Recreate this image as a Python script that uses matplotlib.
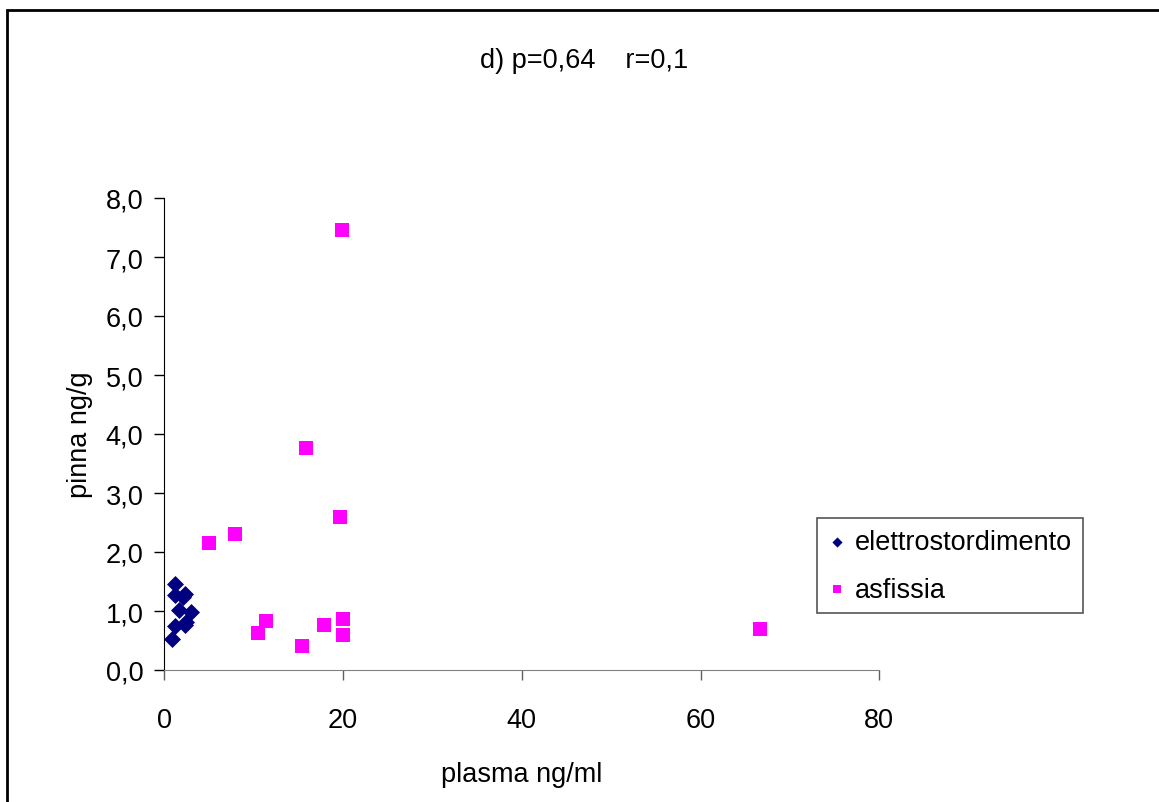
import matplotlib.pyplot as plt
from matplotlib.patches import Rectangle
from matplotlib.ticker import FuncFormatter

plt.rcParams['font.family'] = ['Liberation Sans', 'DejaVu Sans']

# dati
elettro_x = [1.23, 1.20, 2.35, 2.10, 1.68, 3.02, 1.16, 2.28, 2.43, 0.86]
elettro_y = [1.46, 1.27, 1.29, 1.24, 1.02, 0.98, 0.75, 0.76, 0.81, 0.53]
asfissia_x = [4.97, 7.94, 19.62, 11.34, 10.48, 17.90, 20.02, 20.02, 15.37, 19.87, 15.85, 66.7]
asfissia_y = [2.15, 2.31, 2.60, 0.83, 0.63, 0.76, 0.86, 0.60, 0.41, 7.45, 3.76, 0.695]
x_ticks = [0, 20, 40, 60, 80]
y_ticks = [0, 1, 2, 3, 4, 5, 6, 7, 8]

W, H = 1159, 803
fig = plt.figure(figsize=(W / 100, H / 100), dpi=100)
ax = fig.add_axes([164.3 / W, 1 - 671 / H, 715 / W, 472 / H])

ax.scatter(elettro_x, elettro_y, marker='D', s=75, c='#000080', linewidths=0,
           label='elettrostordimento', zorder=3, clip_on=False)
ax.scatter(asfissia_x, asfissia_y, marker='s', s=110, c='#FF00FF', linewidths=0,
           label='asfissia', zorder=3, clip_on=False)

ax.set_xlim(0, 80)
ax.set_ylim(0, 8)
ax.set_xticks(x_ticks)
ax.set_yticks(y_ticks)
ax.yaxis.set_major_formatter(FuncFormatter(lambda v, p: f'{v:.1f}'.replace('.', ',')))

for s in ['top', 'right']:
    ax.spines[s].set_visible(False)
ax.spines['left'].set_color('black')
ax.spines['bottom'].set_color('#808080')
ax.tick_params(axis='y', direction='out', length=7, width=1, colors='black',
               labelsize=19.5, pad=8)
ax.tick_params(axis='x', direction='out', length=7, width=1, color='#606060',
               labelcolor='black', labelsize=19.5, pad=20)

ax.set_xlabel('plasma ng/ml', fontsize=19.5)
ax.xaxis.label.set_va('center')
ax.xaxis.set_label_coords(0.5, (671 - 775) / 472)
ax.set_ylabel('pinna ng/g', fontsize=19.5)
ax.yaxis.label.set_va('center')
ax.yaxis.set_label_coords((80 - 164.3) / 715, 0.5)

fig.text(584 / W, 1 - 61 / H, 'd) p=0,64    r=0,1', fontsize=19.5,
         ha='center', va='center')

leg = ax.legend(loc='upper left', bbox_to_anchor=(816.7 / W, 1 - 519 / H),
                bbox_transform=fig.transFigure, borderaxespad=0, fontsize=19.5,
                frameon=True, fancybox=False, framealpha=1, edgecolor='#555555',
                handlelength=0.7, handletextpad=0.3, labelspacing=0.8,
                borderpad=0.4, markerscale=0.6)
leg.get_frame().set_linewidth(1.2)

# cornice esterna
fig.patches.append(Rectangle((7 / W, -0.05), 1.2, 1 - 11 / H + 0.05,
                             transform=fig.transFigure, fill=False,
                             edgecolor='black', linewidth=2))

fig.savefig('out.png', dpi=100)
